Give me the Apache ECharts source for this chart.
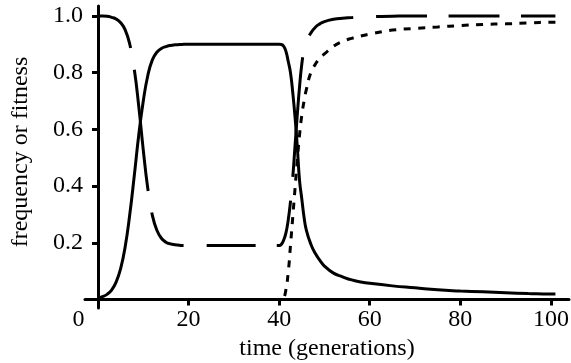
<!DOCTYPE html>
<html>
<head>
<meta charset="utf-8">
<script src="https://cdn.jsdelivr.net/npm/echarts@6/dist/echarts.min.js"></script>
<style>html,body{margin:0;padding:0;background:#fff}#c{width:571px;height:363px}</style>
</head>
<body>
<div id="c"></div>
<script>
// time (generations)
const time = [0,1,2,3,4,5,6,7,8,9,10,11,12,13,14,15,16,17,18,19,20,
  25,30,35,38,39,40,40.5,41,41.5,42,42.5,43,43.5,44,44.5,45,45.5,46,
  47,48,49,50,52,54,56,58,60,65,70,75,80,85,90,95,100,101];
// solid curve
const solidVals = [0.005,0.01,0.018,0.033,0.061,0.109,0.186,0.298,0.435,0.58,0.70,0.79,0.845,0.872,0.885,0.892,0.896,0.898,0.899,0.9,0.9,
  0.9,0.9,0.9,0.9,0.9,0.9,0.899,0.893,0.875,0.84,0.80,0.73,0.645,0.54,0.42,0.355,0.29,0.245,
  0.195,0.162,0.138,0.118,0.093,0.08,0.069,0.062,0.057,0.048,0.041,0.034,0.03,0.027,0.024,0.021,0.019,0.019];
// long-dashed curve
const longDashVals = [1,1,0.999,0.995,0.989,0.976,0.951,0.901,0.813,0.681,0.527,0.391,0.297,0.244,0.216,0.202,0.196,0.193,0.191,0.19,0.19,
  0.19,0.19,0.19,0.19,0.19,0.19,0.195,0.21,0.235,0.28,0.345,0.43,0.54,0.65,0.75,0.83,0.88,0.91,
  0.94,0.96,0.972,0.98,0.988,0.992,0.994,0.996,0.997,0.999,1,1,1,1,1,1,1,1];
// short-dashed curve
const shortDashVals = [0,0,0,0,0,0,0,0,0,0,0,0,0,0,0,0,0,0,0,0,0,
  0,0,0,0,0,0,0,0.005,0.035,0.095,0.19,0.29,0.39,0.49,0.58,0.65,0.70,0.74,
  0.80,0.83,0.852,0.866,0.893,0.91,0.921,0.929,0.936,0.95,0.956,0.961,0.966,0.97,0.972,0.975,0.978,0.978];
const xTicks = [20,40,60,80,100];
const xLabels = [0,20,40,60,80,100];
const yTicks = [0.2,0.4,0.6,0.8,1.0];

const pairs = vals => time.map((t,i)=>[t, vals[i]]);
const font = 'Liberation Serif';
const chart = echarts.init(document.getElementById('c'), null, {renderer:'canvas'});
chart.setOption({
  animation:false,
  backgroundColor:'#fff',
  grid:{left:85,right:2,top:6,bottom:55,containLabel:false,outerBoundsMode:'none'},
  xAxis:{
    type:'value', min:-2.87, max:104,
    splitLine:{show:false},
    axisLine:{onZero:true,lineStyle:{color:'#000',width:3}},
    axisTick:{customValues:xTicks,length:6,lineStyle:{color:'#000',width:3}},
    axisLabel:{customValues:xLabels,margin:0,color:'#000',fontFamily:font,fontSize:24,
      formatter:v=> v===0 ? '{z|0}' : String(v),
      rich:{z:{fontFamily:font,fontSize:24,color:'#000',padding:[0,39,0,0]}}},
    name:'time (generations)', nameLocation:'middle', nameGap:25,
    nameTextStyle:{color:'#000',fontFamily:font,fontSize:24}
  },
  yAxis:{
    type:'value', min:-0.03, max:1.035,
    splitLine:{show:false},
    axisLine:{onZero:true,lineStyle:{color:'#000',width:3}},
    axisTick:{customValues:yTicks,length:6,lineStyle:{color:'#000',width:3}},
    axisLabel:{customValues:yTicks,margin:2,color:'#000',fontFamily:font,fontSize:24,
      formatter:v=>v.toFixed(1)},
    name:'frequency or fitness', nameLocation:'middle', nameGap:52,
    nameTextStyle:{color:'#000',fontFamily:font,fontSize:24,padding:[0,0,0,10]}
  },
  series:[
    {type:'line',data:pairs(shortDashVals),showSymbol:false,smooth:0.5,
      lineStyle:{color:'#000',width:3,type:[7,7.5]}},
    {type:'line',data:pairs(longDashVals),showSymbol:false,smooth:0.5,
      lineStyle:{color:'#000',width:3,type:[52,22,122,22,52,23,49,21,50,24,120,23,50,23,51,21.5,51,21.5,51,21.5,60,21]}},
    {type:'line',data:pairs(solidVals),showSymbol:false,smooth:0.5,
      lineStyle:{color:'#000',width:3}}
  ]
});
</script>
</body>
</html>
